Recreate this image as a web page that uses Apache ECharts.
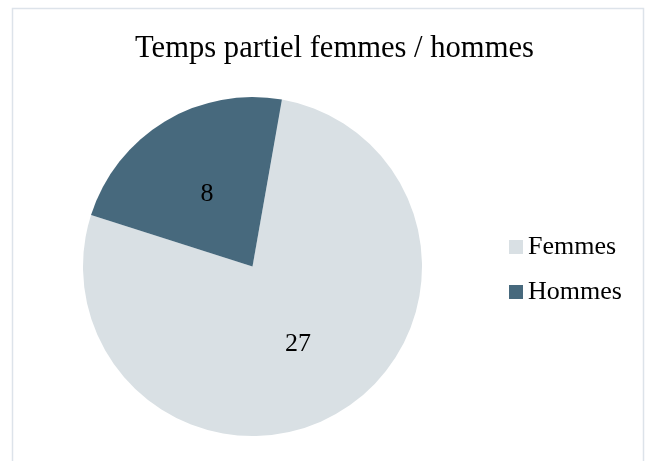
<!DOCTYPE html>
<html>
<head>
<meta charset="utf-8">
<script src="https://cdn.jsdelivr.net/npm/echarts@6/dist/echarts.min.js"></script>
<style>
  html, body { margin: 0; padding: 0; background: #fff; }
  #chart { width: 649px; height: 461px; }
</style>
</head>
<body>
<div id="chart"></div>
<script>
const titleText = 'Temps partiel femmes / hommes'
const categories = ['Femmes', 'Hommes']
const values = [27, 8]
const colors = ['#D9E0E4', '#47697D']

const chart = echarts.init(document.getElementById('chart'))
const serif = '"Liberation Serif", "DejaVu Serif", serif'

const option = {
  backgroundColor: '#fff',
  animation: false,
  title: {
    text: titleText,
    left: 329.5,
    textAlign: 'center',
    top: 28,
    textStyle: {
      fontFamily: serif,
      fontWeight: 'normal',
      fontSize: 30.6,
      color: '#000'
    }
  },
  legend: {
    orient: 'vertical',
    left: 504,
    top: 229,
    itemWidth: 14,
    itemHeight: 14,
    itemGap: 19,
    icon: 'rect',
    data: categories,
    textStyle: {
      fontFamily: serif,
      fontSize: 26,
      lineHeight: 26,
      color: '#000'
    }
  },
  graphic: [{
    type: 'rect',
    shape: { x: 12.5, y: 8.5, width: 631, height: 470 },
    style: { fill: 'none', stroke: '#DDE3EA', lineWidth: 1.5 },
    silent: true
  }],
  series: [{
    type: 'pie',
    center: [252.5, 266.5],
    radius: 169.5,
    startAngle: 80,
    clockwise: true,
    label: {
      show: true,
      position: 'inside',
      formatter: '{c}',
      fontFamily: serif,
      fontSize: 26,
      color: '#000',
      offset: [0, 3]
    },
    labelLine: { show: false },
    emphasis: { disabled: true },
    itemStyle: { borderWidth: 0 },
    data: categories.map((name, i) => ({
      name: name,
      value: values[i],
      itemStyle: { color: colors[i] }
    }))
  }]
}
chart.setOption(option)
</script>
</body>
</html>
